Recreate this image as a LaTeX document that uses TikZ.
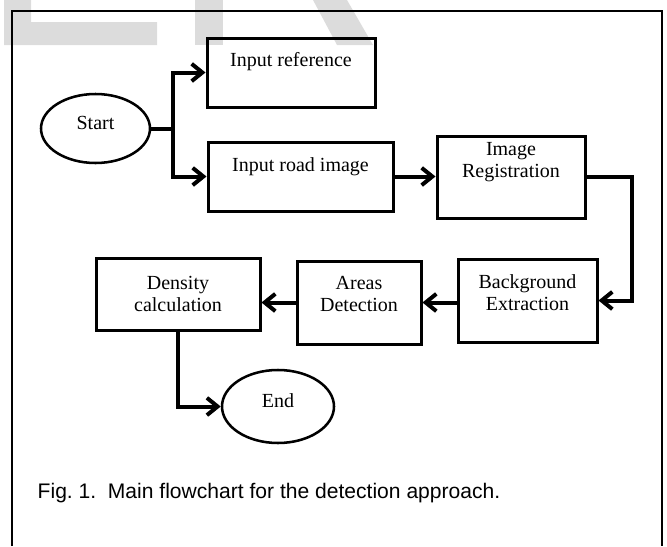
\documentclass[tikz,border=0pt]{standalone}
\usepackage{fontspec}
\setmainfont{Liberation Serif}
\newfontfamily\capfont{Liberation Sans}
\usepackage{tikz}
\usetikzlibrary{arrows.meta,shapes.geometric,fit}
\definecolor{wmgray}{RGB}{220,220,220}

\begin{document}
\begin{tikzpicture}[x=0.75pt, y=-0.75pt,
    box/.style={draw, line width=2.25pt, inner sep=0pt},
    term/.style={draw, ellipse, line width=1.9pt, inner sep=0pt, text height=10pt, text depth=9pt, font=\fontsize{15}{17}\selectfont},
    lbl/.style={align=center, font=\fontsize{15}{16.5}\selectfont},
    flow/.style={line width=3pt, -{Straight Barb[length=8pt, width=13pt]}}]
                \useasboundingbox (0,0) rectangle (667,546);

                % grey letters behind the frame
                \fill[wmgray] (4,0) -- (31,0) -- (31,22) -- (157,22) -- (157,45) -- (4,45) -- cycle;
                \fill[wmgray] (195,0) rectangle (223,45);
                \fill[wmgray] (313,0) -- (347,0) -- (373,45) -- (337,45) -- cycle;

                \draw[line width=1.5pt] (12,546) -- (12,11) -- (662,11) -- (662,546);

                % start and end
                \node[term, minimum width=81.75pt, minimum height=51.75pt] (start) at (95.5,128.5) {Start};
                \node[term, minimum width=84pt, minimum height=54.75pt] (end) at (278,406.5) {End};

                % process boxes
                \node[box, fit={(207,38) (375,107)}] (ref) {};
                \node[box, fit={(208,142) (393,211)}] (road) {};
                \node[box, fit={(437,136) (585,218)}] (reg) {};
                \node[box, fit={(458,259) (597,342)}] (bg) {};
                \node[box, fit={(297,261) (421,344)}] (areas) {};
                \node[box, fit={(96,258) (260,330)}] (dens) {};

                \node[lbl] at (291,62) {Input reference};
                \node[lbl] at (300.5,167) {Input road image};
                \node[lbl] at (511,162) {Image\\Registration};
                \node[lbl] at (527.5,292.5) {Background\\Extraction};
                \node[lbl] at (359,294) {Areas\\Detection};
                \node[lbl] at (178,294) {Density\\calculation};

                % connectors
                \coordinate (fork) at ([xshift=16.5pt]start.east);
                \draw[line width=3pt] (start.east) -- (fork);
                \draw[flow] (fork) |- (ref);
                \draw[flow] (fork) |- (road);
                \draw[flow] (road.east) -- (road.east -| reg.west);
                \draw[flow] (reg.east) -- ++(45,0) |- (bg.east);
                \draw[flow] (bg.west |- areas.east) -- (areas.east);
                \draw[flow] (areas.west) -- (areas.west -| dens.east);
                \draw[flow] (dens.south) |- (end);

                \node[anchor=west, font=\capfont\fontsize{15.8}{18}\selectfont] (cap) at (33,493) {\frenchspacing Fig. 1.\ \ Main flowchart for the detection approach.};
\end{tikzpicture}
\end{document}
